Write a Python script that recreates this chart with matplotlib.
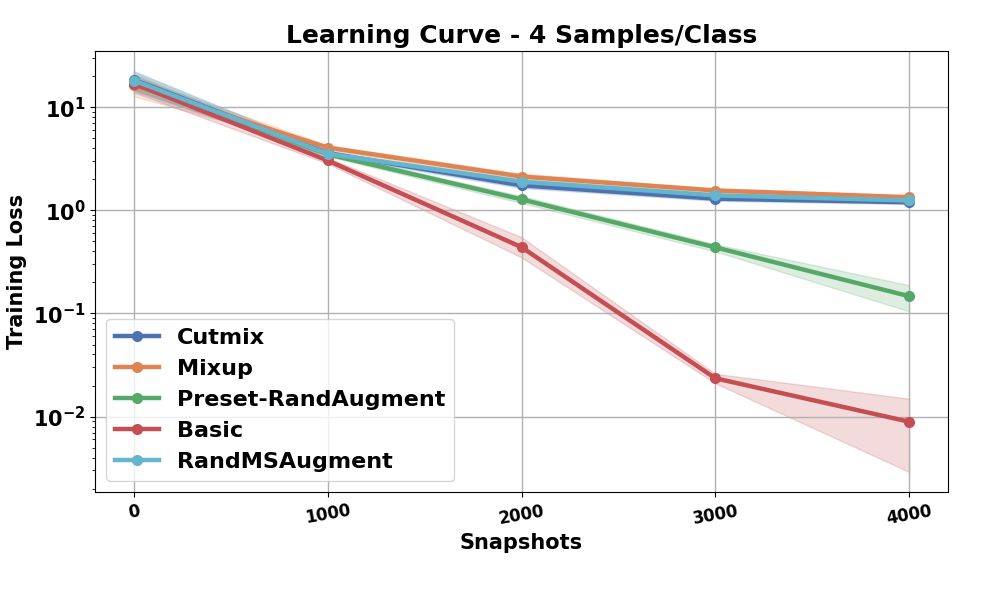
import matplotlib
matplotlib.use("Agg")
import matplotlib.pyplot as plt
import numpy as np

snapshots = [0, 1000, 2000, 3000, 4000]
names = ["Cutmix", "Mixup", "Preset-RandAugment", "Basic", "RandMSAugment"]
colors = ["#4C72B0", "#DD8452", "#55A868", "#C44E52", "#64B5CD"]

cutmix = [18.5, 3.6, 1.75, 1.3, 1.2]
cutmix_lo = [14.5, 3.4, 1.65, 1.24, 1.15]
cutmix_hi = [22.5, 3.8, 1.85, 1.36, 1.26]

mixup = [16.3, 4.07, 2.13, 1.56, 1.34]
mixup_lo = [12.8, 3.85, 2.0, 1.48, 1.27]
mixup_hi = [19.5, 4.3, 2.28, 1.64, 1.42]

preset = [18.0, 3.5, 1.28, 0.438, 0.147]
preset_lo = [15.0, 3.35, 1.18, 0.40, 0.105]
preset_hi = [21.0, 3.65, 1.38, 0.47, 0.188]

basic = [17.0, 3.05, 0.44, 0.0235, 0.0089]
basic_lo = [14.0, 2.85, 0.35, 0.021, 0.0029]
basic_hi = [20.5, 3.25, 0.55, 0.026, 0.0149]

randms = [18.2, 3.55, 1.9, 1.4, 1.25]
randms_lo = [14.8, 3.4, 1.8, 1.34, 1.2]
randms_hi = [22.0, 3.7, 2.0, 1.46, 1.3]

series = [(cutmix, cutmix_lo, cutmix_hi), (mixup, mixup_lo, mixup_hi),
          (preset, preset_lo, preset_hi), (basic, basic_lo, basic_hi),
          (randms, randms_lo, randms_hi)]

plt.rcParams['font.weight'] = 'bold'
fig = plt.figure(figsize=(10, 6), dpi=100)
ax = fig.add_axes([0.095, 0.18, 0.853, 0.735])

for name, col, (m, lo, hi) in zip(names, colors, series):
    ax.plot(snapshots, m, color=col, lw=3.2, marker='o', ms=7, label=name)
    ax.fill_between(snapshots, lo, hi, color=col, alpha=0.2)

ax.set_yscale('log')
ax.grid(True, color='#b0b0b0', lw=1)
ax.set_xticks(snapshots)
ax.set_xticklabels([str(s) for s in snapshots], rotation=10, fontsize=12, fontweight='bold')
for lab in ax.get_yticklabels():
    lab.set_fontsize(15)
    lab.set_fontweight('bold')
ax.tick_params(axis='y', labelsize=15)
ax.set_xlabel("Snapshots", fontsize=15, fontweight='bold')
ax.set_ylabel("Training Loss", fontsize=15, fontweight='bold')
ax.set_title("Learning Curve - 4 Samples/Class", fontsize=18, fontweight='bold')
ax.legend(loc='lower left', prop={'size': 16, 'weight': 'bold'})

fig.savefig("out.png", dpi=100)
